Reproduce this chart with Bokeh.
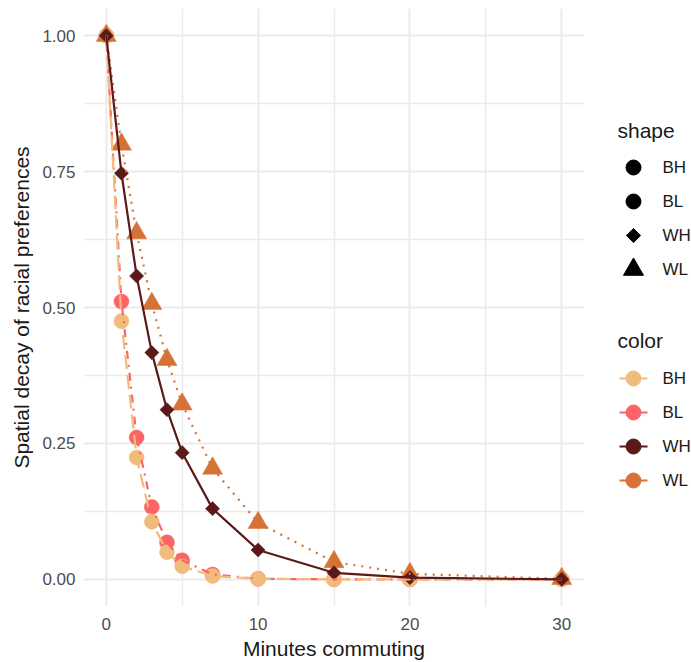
from bokeh.plotting import figure
from bokeh.layouts import row
from bokeh.models import FixedTicker, Range1d, ColumnDataSource
from bokeh.core.properties import value
from bokeh.embed import file_html
from bokeh.resources import INLINE
import numpy as np

# ---------------- data ----------------
minutes = [0, 1, 2, 3, 4, 5, 7, 10, 15, 20, 30]
decay_BH = [1.0, 0.475, 0.224, 0.106, 0.050, 0.024, 0.006, 0.001, 0.0, 0.0, 0.0]
decay_BL = [1.0, 0.511, 0.261, 0.133, 0.068, 0.035, 0.009, 0.001, 0.0, 0.0, 0.0]
decay_WH = [1.0, 0.747, 0.558, 0.417, 0.312, 0.233, 0.130, 0.054, 0.012, 0.003, 0.0]
decay_WL = [1.0, 0.800, 0.637, 0.507, 0.404, 0.322, 0.204, 0.104, 0.032, 0.010, 0.001]

groups = ["BH", "BL", "WH", "WL"]
x_ticks = [0, 10, 20, 30]
x_minor_ticks = [5, 15, 25]
y_ticks = [0.0, 0.25, 0.5, 0.75, 1.0]
y_tick_labels = ["0.00", "0.25", "0.50", "0.75", "1.00"]
y_minor_ticks = [0.125, 0.375, 0.625, 0.875]

series = {"BH": decay_BH, "BL": decay_BL, "WH": decay_WH, "WL": decay_WL}
colors = {"BH": "#F1BB7B", "BL": "#FD6467", "WH": "#5B1A18", "WL": "#D67236"}
markers = {"BH": "circle", "BL": "circle", "WH": "square", "WL": "triangle"}
msize = {"BH": 15, "BL": 15, "WH": 10, "WL": 20}
mangle = {"BH": 0.0, "BL": 0.0, "WH": np.pi / 4, "WL": 0.0}
dashes = {"BH": "14 6", "BL": "2 6 8 6", "WH": "solid", "WL": "2 6"}
draw_order = ["BL", "BH", "WL", "WH"]

FONT = "Liberation Sans"
TXT = "#1A1A1A"

p = figure(width=584, height=662, output_backend="svg", toolbar_location=None,
           x_range=Range1d(-1.5, 31.5), y_range=Range1d(-0.05, 1.05),
           min_border_left=83, min_border_right=0, min_border_top=8,
           min_border_bottom=56)
p.outline_line_color = None
p.background_fill_color = "white"
p.border_fill_color = "white"

# axes
p.xaxis.ticker = FixedTicker(ticks=x_ticks, minor_ticks=x_minor_ticks)
p.yaxis.ticker = FixedTicker(ticks=y_ticks, minor_ticks=y_minor_ticks)
p.yaxis.major_label_overrides = {t: l for t, l in zip(y_ticks, y_tick_labels)}
p.xaxis.axis_label = "Minutes commuting"
p.yaxis.axis_label = "Spatial decay of racial preferences"
for ax in (p.xaxis, p.yaxis):
    ax.axis_line_color = None
    ax.major_tick_line_color = None
    ax.minor_tick_line_color = None
    ax.major_tick_out = 0
    ax.major_tick_in = 0
    ax.minor_tick_out = 0
    ax.minor_tick_in = 0
    ax.major_label_text_color = "#4D4D4D"
    ax.major_label_text_font = FONT
    ax.major_label_text_font_size = "17px"
    ax.axis_label_text_font = FONT
    ax.axis_label_text_font_size = "21px"
    ax.axis_label_text_font_style = "normal"
    ax.axis_label_text_color = TXT
p.xaxis.major_label_standoff = 11
p.xaxis.axis_label_standoff = 4
p.yaxis.major_label_standoff = 8
p.yaxis.axis_label_standoff = 6

for g in (p.xgrid, p.ygrid):
    g.grid_line_color = "#EBEBEB"
    g.grid_line_width = 2
    g.minor_grid_line_color = "#EBEBEB"
    g.minor_grid_line_width = 1.5

# points
for k in draw_order:
    src = ColumnDataSource(dict(x=minutes, y=series[k]))
    p.scatter("x", "y", source=src, marker=markers[k], size=msize[k], angle=mangle[k],
              fill_color=colors[k], line_color=colors[k], line_width=0.5)
# lines
for k in draw_order:
    src = ColumnDataSource(dict(x=minutes, y=series[k]))
    p.line("x", "y", source=src, line_color=colors[k], line_width=2.2, line_dash=dashes[k])

# ---------------- legend panel (pixel coordinates, y measured downward) ----------------
lf = figure(width=107, height=662, output_backend="svg", toolbar_location=None,
            x_range=Range1d(0, 107), y_range=Range1d(606, 8),
            min_border_left=0, min_border_right=0, min_border_top=8, min_border_bottom=56)
lf.axis.visible = False
lf.grid.visible = False
lf.outline_line_color = None
lf.background_fill_color = "white"
lf.border_fill_color = "white"

TITLE_X, KEY_X, LABEL_X = 33, 49, 78
KEY_HALF = 14
STEP = 34
legend_blocks = [("shape", 130, 167), ("color", 340, 378)]

for title, ty, first in legend_blocks:
    lf.text(x=[TITLE_X], y=[ty], text=[title], text_font=value(FONT), text_font_size="21px",
            text_color=TXT, text_baseline="middle", text_align="left")
    ys = [first + STEP * i for i in range(len(groups))]
    lf.text(x=[LABEL_X] * len(groups), y=ys, text=groups, text_font=value(FONT),
            text_font_size="17px", text_color=TXT, text_baseline="middle", text_align="left")
    for k, yy in zip(groups, ys):
        if title == "shape":
            lf.scatter(x=[KEY_X], y=[yy], marker=markers[k], size=msize[k], angle=mangle[k],
                       fill_color="black", line_color="black")
        else:
            lf.segment(x0=[KEY_X - KEY_HALF], y0=[yy], x1=[KEY_X + KEY_HALF], y1=[yy],
                       line_color=colors[k], line_width=2.2)
            lf.scatter(x=[KEY_X], y=[yy], marker="circle", size=15,
                       fill_color=colors[k], line_color=colors[k])

layout = row(p, lf, spacing=0)
open("out.html", "w").write(file_html(layout, INLINE))
